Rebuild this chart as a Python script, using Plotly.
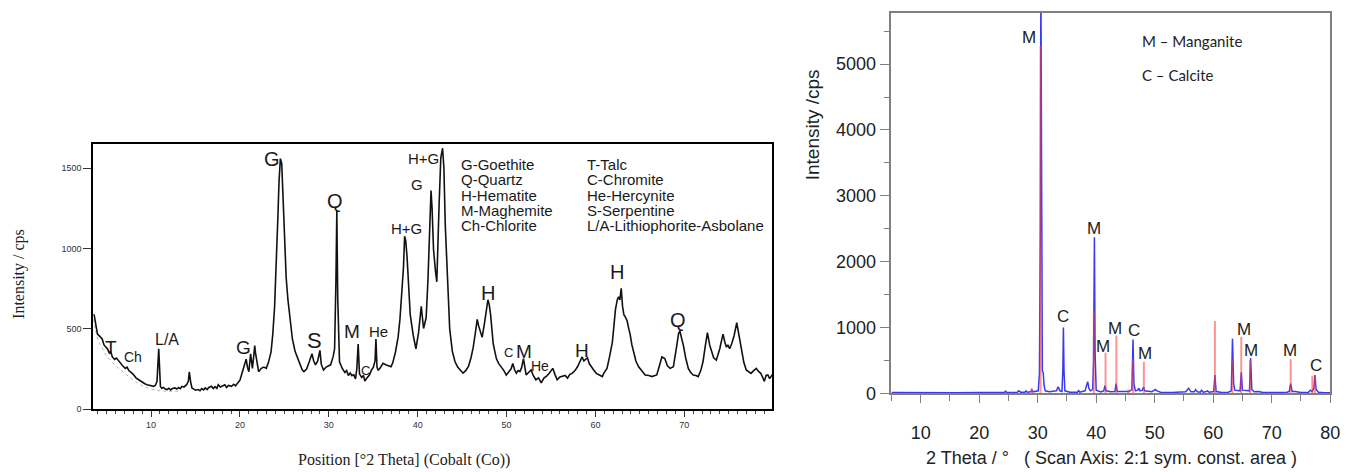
import plotly.graph_objects as go

# ---------------- Left panel data (XRD, Cobalt) ----------------
left_x = [3.5, 3.6, 3.8, 3.97, 4.2, 4.5, 4.7, 4.9, 5.08, 5.3, 5.45, 5.64, 5.9, 6.1, 6.4, 6.6, 6.8, 7.1, 7.3, 7.5,
          7.7, 7.88, 8.1, 8.3, 8.6, 8.8, 9.0, 9.3, 9.55, 9.8, 10.0, 10.3, 10.5, 10.67, 10.86, 10.95, 11.05, 11.2, 11.4, 11.6,
          11.8, 12.0, 12.2, 12.4, 12.7, 12.9, 13.1, 13.3, 13.46, 13.7, 14.0, 14.2, 14.3, 14.45, 14.6, 14.8, 15.0, 15.3, 15.5, 15.7,
          15.9, 16.1, 16.3, 16.5, 16.8, 17.0, 17.2, 17.4, 17.56, 17.8, 18.0, 18.3, 18.5, 18.7, 19.05, 19.3, 19.5, 19.8, 20.0, 20.17,
          20.35, 20.55, 20.7, 20.85, 21.0, 21.2, 21.3, 21.4, 21.55, 21.66, 21.75, 21.84, 22.1, 22.4, 22.7, 22.96, 23.2, 23.5, 23.7, 23.9,
          24.1, 24.27, 24.4, 24.55, 24.7, 24.85, 25.0, 25.2, 25.4, 25.65, 25.9, 26.2, 26.5, 26.8, 27.0, 27.2, 27.5, 27.8, 28.1, 28.3,
          28.5, 28.75, 29.0, 29.15, 29.4, 29.7, 30.0, 30.2, 30.5, 30.65, 30.8, 30.9, 31.0, 31.2, 31.5, 31.8, 32.0, 32.2, 32.4, 32.6,
          32.8, 33.0, 33.15, 33.3, 33.45, 33.7, 33.9, 34.05, 34.2, 34.4, 34.6, 34.8, 35.0, 35.2, 35.3, 35.42, 35.55, 35.7, 35.9, 36.1,
          36.4, 36.7, 37.0, 37.2, 37.5, 37.8, 38.0, 38.2, 38.4, 38.53, 38.65, 38.8, 38.95, 39.16, 39.5, 39.8, 40.1, 40.4, 40.66, 40.95,
          41.15, 41.3, 41.5, 41.62, 41.78, 42.0, 42.15, 42.4, 42.6, 42.8, 42.95, 43.1, 43.26, 43.45, 43.6, 43.9, 44.2, 44.5, 44.75, 45.1,
          45.4, 45.7, 46.0, 46.25, 46.5, 46.7, 46.85, 47.0, 47.25, 47.5, 47.7, 47.9, 48.05, 48.2, 48.5, 48.85, 49.1, 49.4, 49.7, 49.97,
          50.3, 50.5, 50.7, 50.9, 51.1, 51.3, 51.5, 51.7, 51.9, 52.05, 52.2, 52.5, 52.76, 53.0, 53.3, 53.6, 53.9, 54.2, 54.5, 54.8,
          55.0, 55.2, 55.45, 55.7, 56.0, 56.3, 56.6, 56.86, 57.1, 57.4, 57.7, 57.98, 58.2, 58.5, 58.7, 58.9, 59.1, 59.3, 59.55, 59.8,
          60.1, 60.4, 60.77, 60.95, 61.3, 61.6, 61.9, 62.1, 62.25, 62.45, 62.6, 62.75, 62.9, 63.05, 63.2, 63.4, 63.57, 63.75, 63.9, 64.1,
          64.3, 64.55, 64.86, 65.2, 65.6, 66.0, 66.36, 66.7, 66.9, 67.2, 67.47, 67.65, 67.8, 68.1, 68.4, 68.77, 69.0, 69.15, 69.35, 69.5,
          69.7, 69.9, 70.15, 70.45, 70.7, 71.0, 71.3, 71.56, 71.85, 72.1, 72.35, 72.6, 72.85, 73.06, 73.3, 73.6, 73.8, 73.99, 74.2, 74.36,
          74.55, 74.74, 74.9, 75.1, 75.35, 75.6, 75.9, 76.1, 76.4, 76.7, 76.97, 77.2, 77.5, 77.8, 78.1, 78.35, 78.6, 78.8, 79.0, 79.2,
          79.4, 79.6, 79.9]
left_y = [590, 585, 520, 467, 455, 437, 400, 390, 376, 350, 360, 325, 310, 318, 295, 285, 270, 254, 262, 240,
          232, 223, 210, 195, 183, 175, 165, 158, 152, 148, 145, 142, 150, 173, 376, 240, 142, 130, 135, 125,
          122, 130, 120, 128, 132, 125, 135, 128, 142, 138, 152, 175, 233, 170, 132, 125, 118, 122, 115, 128,
          120, 132, 122, 135, 142, 128, 140, 130, 152, 138, 145, 152, 135, 148, 142, 155, 145, 162, 180, 213,
          250, 274, 311, 260, 233, 345, 290, 254, 330, 396, 350, 325, 233, 254, 262, 254, 290, 356, 470, 640,
          900, 1200, 1420, 1560, 1530, 1300, 1050, 820, 680, 540, 437, 360, 315, 270, 245, 234, 250, 295, 345, 300,
          276, 300, 366, 280, 244, 262, 270, 276, 330, 376, 800, 1235, 700, 295, 255, 228, 240, 210, 225, 208,
          215, 188, 250, 406, 220, 198, 210, 175, 188, 200, 215, 244, 260, 300, 437, 260, 244, 250, 264, 285,
          276, 270, 264, 290, 356, 450, 559, 720, 884, 1077, 1050, 950, 800, 589, 459, 376, 478, 640, 502, 569,
          800, 1057, 1362, 1250, 995, 860, 793, 1260, 1565, 1625, 1500, 1150, 900, 650, 500, 360, 295, 262, 244, 224,
          240, 264, 320, 386, 480, 559, 520, 488, 447, 529, 600, 681, 650, 590, 406, 315, 285, 264, 240, 213,
          234, 250, 284, 245, 224, 240, 234, 260, 315, 250, 213, 230, 244, 210, 183, 195, 163, 193, 205, 224,
          240, 254, 215, 183, 200, 203, 210, 193, 215, 224, 240, 264, 290, 325, 300, 309, 320, 284, 260, 244,
          223, 213, 203, 224, 254, 330, 416, 530, 620, 680, 700, 680, 752, 640, 588, 570, 549, 500, 467, 400,
          355, 300, 264, 240, 213, 210, 203, 210, 213, 270, 325, 320, 315, 270, 254, 264, 330, 396, 470, 488,
          440, 396, 320, 254, 230, 213, 210, 203, 240, 295, 390, 477, 400, 355, 320, 305, 340, 376, 430, 467,
          420, 386, 400, 376, 410, 457, 538, 470, 376, 290, 244, 235, 223, 240, 254, 235, 223, 200, 173, 210,
          213, 190, 215]

# faint dotted background trace at low angles
bg_x = [3.5, 4.0, 5.0, 6.0, 7.0, 8.0, 9.0, 10.0, 11.0, 12.0, 13.0]
bg_y = [560, 430, 330, 270, 225, 180, 145, 125, 115, 110, 112]

left_labels = ["T", "Ch", "L/A", "G", "G", "S", "Q", "M", "C", "He", "H+G", "G", "H+G", "H", "C", "M", "He", "H", "H", "Q"]
left_lab_x = [5.5, 8.0, 11.8, 20.4, 23.6, 28.4, 30.7, 32.6, 34.1, 35.55, 38.7, 39.9, 40.7, 47.9, 50.2, 52.0, 53.8, 58.5, 62.4, 69.3]
left_lab_y = [386, 325, 433, 387, 1558, 427, 1294, 482, 238, 483, 1124, 1402, 1558, 725, 355, 360, 268, 366, 854, 555]
left_lab_size = [19, 14, 16, 19, 20, 22, 20, 19, 13, 15, 15, 15, 15, 20, 13, 19, 14, 19, 20, 20]

legend_col1 = ["G-Goethite", "Q-Quartz", "H-Hematite", "M-Maghemite", "Ch-Chlorite"]
legend_col2 = ["T-Talc", "C-Chromite", "He-Hercynite", "S-Serpentine", "L/A-Lithiophorite-Asbolane"]

left_xticks = [10, 20, 30, 40, 50, 60, 70]
left_yticks = [0, 500, 1000, 1500]

# ---------------- Right panel data (Manganite / Calcite) ----------------
right_x = [5, 8, 12, 16, 20, 23, 24.3, 24.5, 24.7, 26.5, 26.8, 27.1, 27.8, 28.0, 28.2, 28.8, 29.0, 29.2, 30.1, 30.3,
           30.45, 30.55, 30.65, 30.8, 30.95, 31.1, 31.3, 32.0, 33.2, 33.5, 33.8, 34.15, 34.3, 34.4, 34.5, 34.65, 35.5, 36.8, 37.0, 37.2,
           38.1, 38.4, 38.55, 38.75, 39.0, 39.4, 39.55, 39.7, 39.82, 40.0, 40.8, 41.3, 41.5, 41.7, 42.5, 43.2, 43.4, 43.6, 45.0, 45.6,
           46.1, 46.3, 46.45, 46.7, 47.1, 47.3, 47.5, 47.9, 48.1, 48.3, 49.5, 49.9, 50.1, 50.4, 51.0, 53.0, 55.3, 55.8, 56.2, 56.8,
           57.0, 57.3, 57.8, 58.0, 58.3, 58.7, 59.0, 59.3, 60.1, 60.3, 60.5, 61.5, 62.5, 63.1, 63.3, 63.5, 63.7, 64.6, 64.8, 65.0,
           66.2, 66.4, 66.6, 67.0, 67.8, 68.5, 70.5, 71.0, 72.5, 73.0, 73.25, 73.5, 74.0, 75.0, 76.3, 76.6, 76.9, 77.2, 77.4, 77.6,
           78.0, 79.0, 80.0]
right_y = [15, 12, 14, 12, 13, 14, 15, 35, 15, 18, 40, 18, 20, 40, 20, 25, 55, 25, 40, 300,
           2500, 6300, 2500, 350, 310, 120, 40, 25, 40, 100, 40, 30, 350, 1000, 350, 40, 20, 20, 45, 20,
           40, 160, 180, 80, 40, 60, 500, 2370, 600, 50, 25, 40, 120, 40, 25, 30, 150, 30, 25, 30,
           60, 820, 150, 40, 50, 80, 40, 50, 100, 40, 25, 45, 60, 40, 20, 15, 25, 80, 25, 25,
           60, 25, 20, 50, 20, 25, 40, 20, 30, 280, 30, 15, 15, 40, 830, 150, 50, 40, 320, 50,
           40, 540, 60, 25, 30, 15, 15, 25, 15, 30, 150, 30, 30, 15, 20, 50, 30, 80, 280, 60,
           20, 12, 10]

ref_x = [29.0, 30.5, 39.6, 41.6, 43.45, 45.5, 46.3, 48.15, 60.3, 63.3, 64.8, 66.3, 73.25, 76.95, 77.4]
ref_y = [80, 5280, 1260, 620, 880, 60, 520, 480, 1100, 520, 860, 510, 520, 270, 260]

right_labels = ["M", "C", "M", "M", "M", "C", "M", "M", "M", "M", "C"]
right_lab_x = [28.6, 34.4, 39.6, 41.2, 43.2, 46.5, 48.3, 65.2, 66.4, 73.2, 77.5]
right_lab_y = [5397, 1168, 2510, 720, 993, 960, 605, 967, 655, 655, 425]

right_xticks = [10, 20, 30, 40, 50, 60, 70, 80]
right_yticks = [0, 1000, 2000, 3000, 4000, 5000]

# ---------------- Figure ----------------
W, H = 1365, 472
fig = go.Figure()

fig.add_trace(go.Scatter(x=bg_x, y=bg_y, mode="lines", line=dict(color="#b5b5b5", width=1, dash="dot"),
                         xaxis="x", yaxis="y", hoverinfo="skip", showlegend=False))
fig.add_trace(go.Scatter(x=left_x, y=left_y, mode="lines", line=dict(color="#111111", width=1.6),
                         xaxis="x", yaxis="y", showlegend=False))

fig.add_trace(go.Scatter(x=right_x, y=right_y, mode="lines", line=dict(color="#3a3aee", width=1.5),
                         xaxis="x2", yaxis="y2", showlegend=False, cliponaxis=True))
stick_x, stick_y = [], []
for xv, yv in zip(ref_x, ref_y):
    stick_x += [xv, xv, None]
    stick_y += [0, yv, None]
fig.add_trace(go.Scatter(x=stick_x, y=stick_y, mode="lines", line=dict(color="rgba(255,60,60,0.55)", width=2),
                         xaxis="x2", yaxis="y2", showlegend=False))

def px(v):
    return v / W

def py(v):
    return 1 - v / H

left_dom_x = [px(94), px(778)]
left_dom_y = [py(418), py(147)]
right_dom_x = [px(898), px(1340)]
right_dom_y = [py(402), py(13)]

fig.update_layout(
    width=W, height=H, margin=dict(l=0, r=0, t=0, b=0),
    paper_bgcolor="white", plot_bgcolor="white",
    showlegend=False,
    xaxis=dict(domain=left_dom_x, anchor="y", range=[3.5, 79.9], showgrid=False, zeroline=False,
               showline=True, linecolor="black", linewidth=2, mirror=True,
               tickmode="array", tickvals=left_xticks, ticks="outside", ticklen=6, tickwidth=1, tickcolor="#333",
               minor=dict(dtick=1, ticks="outside", ticklen=3, tickcolor="#444", showgrid=False),
               tickfont=dict(family="Liberation Sans, Arial", size=9, color="#333")),
    yaxis=dict(domain=left_dom_y, anchor="x", range=[0, 1652], showgrid=False, zeroline=False,
               showline=True, linecolor="black", linewidth=2, mirror=True,
               tickmode="array", tickvals=left_yticks, ticks="outside", ticklen=8, tickwidth=1, tickcolor="#333",
               tickfont=dict(family="Liberation Sans, Arial", size=9, color="#333")),
    xaxis2=dict(domain=right_dom_x, anchor="y2", range=[5, 80], showgrid=False, zeroline=False,
                showline=True, linecolor="#808080", linewidth=1.5, mirror=True,
                tickmode="array", tickvals=right_xticks, ticks="outside", ticklen=8, tickwidth=1.2, tickcolor="#808080",
                minor=dict(dtick=5, ticks="outside", ticklen=6, tickcolor="#808080", showgrid=False),
                ticklabelstandoff=14,
                tickfont=dict(family="Liberation Sans, Arial", size=18, color="#222")),
    yaxis2=dict(domain=right_dom_y, anchor="x2", range=[0, 5780], showgrid=False, zeroline=False,
                showline=True, linecolor="#808080", linewidth=1.5, mirror=True,
                tickmode="array", tickvals=right_yticks, ticks="outside", ticklen=10, tickwidth=1.2, tickcolor="#808080",
                minor=dict(dtick=500, ticks="outside", ticklen=6, tickcolor="#808080", showgrid=False),
                tickfont=dict(family="Liberation Sans, Arial", size=18, color="#222")),
)

ann = []
# left labels
for t, xv, yv, s in zip(left_labels, left_lab_x, left_lab_y, left_lab_size):
    ann.append(dict(text=t, x=xv, y=yv, xref="x", yref="y", showarrow=False, xanchor="center", yanchor="middle",
                    font=dict(family="Liberation Sans, Arial", size=s, color="#1a1a1a")))
# left legend
for i, (a, b) in enumerate(zip(legend_col1, legend_col2)):
    yy = 168.3 + i * 15.5
    ann.append(dict(text=a, x=px(462), y=py(yy), xref="paper", yref="paper", showarrow=False,
                    xanchor="left", yanchor="middle", font=dict(family="Liberation Sans, Arial", size=15, color="#1a1a1a")))
    ann.append(dict(text=b, x=px(589), y=py(yy), xref="paper", yref="paper", showarrow=False,
                    xanchor="left", yanchor="middle", font=dict(family="Liberation Sans, Arial", size=15, color="#1a1a1a")))
# left axis titles
ann.append(dict(text="Intensity / cps", x=px(19), y=py(280), xref="paper", yref="paper", showarrow=False,
                textangle=-90, xanchor="center", yanchor="middle",
                font=dict(family="Liberation Serif, Times New Roman", size=16, color="#222")))
ann.append(dict(text="Position [°2 Theta] (Cobalt (Co))", x=px(407), y=py(470), xref="paper", yref="paper",
                showarrow=False, xanchor="center", yanchor="middle",
                font=dict(family="Liberation Serif, Times New Roman", size=16, color="#222")))
# right labels
for t, xv, yv in zip(right_labels, right_lab_x, right_lab_y):
    ann.append(dict(text=t, x=xv, y=yv, xref="x2", yref="y2", showarrow=False, xanchor="center", yanchor="middle",
                    font=dict(family="Liberation Sans, Arial", size=17, color="#222")))
ann.append(dict(text="M – Manganite", x=px(1148), y=py(42), xref="paper", yref="paper", showarrow=False,
                xanchor="left", yanchor="middle", font=dict(family="Lato", size=15, color="#222")))
ann.append(dict(text="C – Calcite", x=px(1148), y=py(77), xref="paper", yref="paper", showarrow=False,
                xanchor="left", yanchor="middle", font=dict(family="Lato", size=15, color="#222")))
ann.append(dict(text="Intensity /cps", x=px(818), y=py(128), xref="paper", yref="paper", showarrow=False,
                textangle=-90, xanchor="center", yanchor="middle",
                font=dict(family="Liberation Sans, Arial", size=19, color="#222")))
ann.append(dict(text="2 Theta / °\u00a0\u00a0\u00a0( Scan Axis: 2:1 sym. const. area )", x=px(1120), y=py(468),
                xref="paper", yref="paper", showarrow=False, xanchor="center", yanchor="middle",
                font=dict(family="Liberation Sans, Arial", size=18, color="#222")))
fig.update_layout(annotations=ann)

fig.write_html("out.html")
